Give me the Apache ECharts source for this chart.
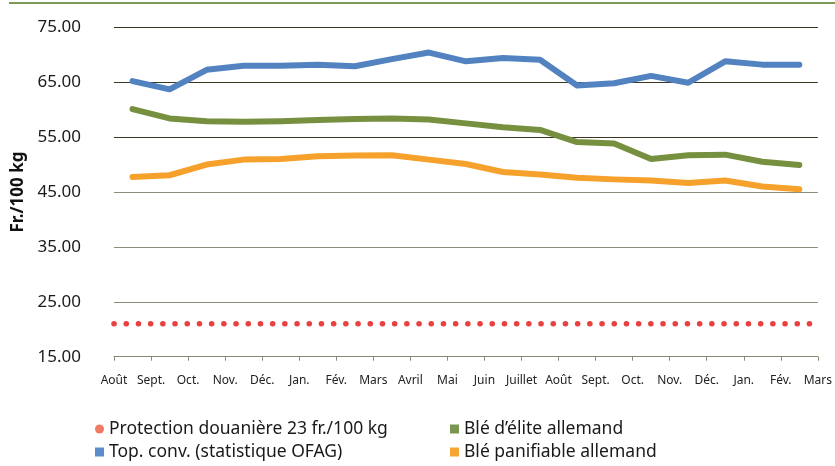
<!DOCTYPE html>
<html>
<head>
<meta charset="utf-8">
<script src="https://cdn.jsdelivr.net/npm/echarts@6/dist/echarts.min.js"></script>
<style>
html,body{margin:0;padding:0;background:#fff;}
#c{width:835px;height:466px;}
</style>
</head>
<body>
<div id="c"></div>
<script>
// Month tick labels (at month boundaries)
var monthLabels = ['Août','Sept.','Oct.','Nov.','Déc.','Jan.','Fév.','Mars','Avril','Mai','Juin','Juillet','Août','Sept.','Oct.','Nov.','Déc.','Jan.','Fév.','Mars'];
// Series values (one per month, plotted at mid-month)
var topConv = [65.2,63.7,67.25,68.0,68.0,68.2,67.9,69.2,70.4,68.8,69.4,69.1,64.4,64.8,66.15,64.9,68.8,68.2,68.2];
var bleElite = [60.1,58.4,57.9,57.8,57.9,58.1,58.3,58.4,58.2,57.5,56.8,56.3,54.1,53.85,51.0,51.7,51.8,50.5,49.9];
var blePanif = [47.75,48.05,50.0,50.9,51.0,51.5,51.65,51.7,50.9,50.1,48.65,48.2,47.6,47.3,47.1,46.65,47.1,46.0,45.5];
var protectionLevel = 21;
var yTicks = [15,25,35,45,55,65,75];

var names = ['Protection douanière 23 fr./100 kg','Top. conv. (statistique OFAG)','Blé d’élite allemand','Blé panifiable allemand'];
var colors = {blue:'#5283c0', green:'#76903f', orange:'#f5a12b', red:'#e8413f'};
var font = 'Noto Sans';

function toPts(arr){ return arr.map(function(v,i){ return [i+0.5, v]; }); }
var protPts = monthLabels.map(function(m,i){ return [i, protectionLevel]; });

var chart = echarts.init(document.getElementById('c'));
chart.setOption({
  animation:false,
  backgroundColor:'#fff',
  textStyle:{fontFamily:font},
  graphic:[{type:'rect', shape:{x:9,y:2,width:826,height:2}, style:{fill:'#7f9a55'}, silent:true}],
  grid:{left:114,right:16,top:27.3,bottom:109.3},
  legend:[{
    orient:'vertical', left:90, top:415, itemWidth:9, itemHeight:9, itemGap:5,
    textStyle:{fontFamily:font, fontSize:17.5, color:'#1a1a1a', lineHeight:16},
    data:[{name:names[0], icon:'circle', itemStyle:{color:'#ee7b62'}},
          {name:names[1], icon:'rect', itemStyle:{color:'#5b8bc8'}}]
  },{
    orient:'vertical', left:445, top:415, itemWidth:9, itemHeight:9, itemGap:5,
    textStyle:{fontFamily:font, fontSize:17.5, color:'#1a1a1a', lineHeight:16},
    data:[{name:names[2], icon:'rect', itemStyle:{color:'#7a9650'}},
          {name:names[3], icon:'rect', itemStyle:{color:'#f6a433'}}]
  }],
  xAxis:{
    type:'value', min:0, max:monthLabels.length-1, interval:1,
    axisLine:{show:true, lineStyle:{color:'#8c8878', width:1.2}},
    axisTick:{show:true, length:4, lineStyle:{color:'#8c8878'}},
    splitLine:{show:false},
    axisLabel:{fontSize:12, color:'#222', margin:18, fontFamily:font,
      formatter:function(v){ return monthLabels[Math.round(v)] || ''; }}
  },
  yAxis:{
    type:'value', min:yTicks[0], max:yTicks[yTicks.length-1], interval:10,
    name:'Fr./100 kg', nameLocation:'middle', nameGap:86,
    nameTextStyle:{fontSize:17, fontWeight:'bold', color:'#111', fontFamily:font},
    axisLine:{show:false}, axisTick:{show:false},
    axisLabel:{fontSize:17, color:'#1a1a1a', margin:33, fontFamily:font,
      formatter:function(v){ return v.toFixed(2); }},
    splitLine:{show:true, lineStyle:{width:1.2, color:['#8f8b7b','#8f8b7b','#8f8b7b','#8f8b7b','#3b3523','#3b3523','#3b3523']}}
  },
  series:[
    {name:names[0], type:'line', data:protPts, symbol:'none', z:3,
     itemStyle:{color:'#ee7b62'},
     lineStyle:{color:colors.red, width:5.5, type:[0.1,12.1], cap:'round'}},
    {name:names[1], type:'line', data:toPts(topConv), symbol:'none',
     itemStyle:{color:colors.blue},
     lineStyle:{color:colors.blue, width:6, cap:'round', join:'round'}},
    {name:names[2], type:'line', data:toPts(bleElite), symbol:'none',
     itemStyle:{color:colors.green},
     lineStyle:{color:colors.green, width:6, cap:'round', join:'round'}},
    {name:names[3], type:'line', data:toPts(blePanif), symbol:'none',
     itemStyle:{color:colors.orange},
     lineStyle:{color:colors.orange, width:6, cap:'round', join:'round'}}
  ]
});
</script>
</body>
</html>
